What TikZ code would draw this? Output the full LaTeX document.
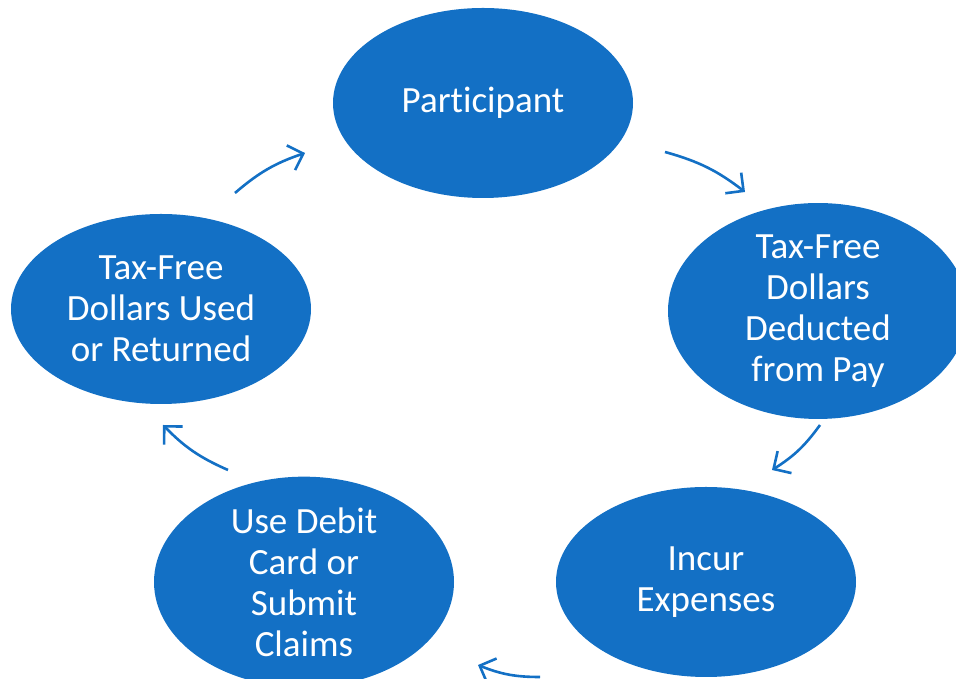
\documentclass[tikz,border=0pt]{standalone}
\usepackage{fontspec}
\setmainfont{Carlito}[Ligatures={NoCommon}]
\usetikzlibrary{shapes.geometric}
\usetikzlibrary{arrows.meta}
\definecolor{flowblue}{RGB}{19,112,197}
\tikzset{
  stage/.style={ellipse, fill=flowblue, text=white, align=center, inner sep=0pt,
    minimum width=300pt, minimum height=190pt,
    font=\fontsize{37}{41}\selectfont},
  cyc/.style={flowblue, line width=2.6pt, bend left=11,
    -{Straight Barb[length=13pt,width=26pt,line width=2.6pt]}}
}
\begin{document}
\begin{tikzpicture}[x=1pt,y=1pt]
  \useasboundingbox (0,0) rectangle (956,679);
  \clip (0,0) rectangle (956,679);

  \node(part) [stage] at (483,576) {Participant};
  \node(ded) [stage] at (818,368) {Tax-Free\\Dollars\\Deducted\\from Pay};
  \node(inc) [stage] at (706,97) {Incur\\Expenses};
  \node(use) [stage] at (304,97) {Use Debit\\Card or\\Submit\\Claims};
  \node(ret) [stage] at (161,370) {Tax-Free\\Dollars Used\\or Returned};

  % arrow ends
  \coordinate(a1) at (235,486);
  \coordinate(b1) at (305,526);
  \coordinate(a2) at (665,527);
  \coordinate(b2) at (745,487);
  \coordinate(a3) at (820,254);
  \coordinate(b3) at (772,209);
  \coordinate(a4) at (540,2);
  \coordinate(b4) at (478,14);
  \coordinate(a5) at (228,209);
  \coordinate(b5) at (163,254);

  \draw[cyc] (a1) to (b1);
  \draw[cyc] (a2) to (b2);
  \draw[cyc] (a3) to (b3);
  \draw[cyc] (a4) to (b4);
  \draw[cyc] (a5) to (b5);
\end{tikzpicture}
\end{document}
